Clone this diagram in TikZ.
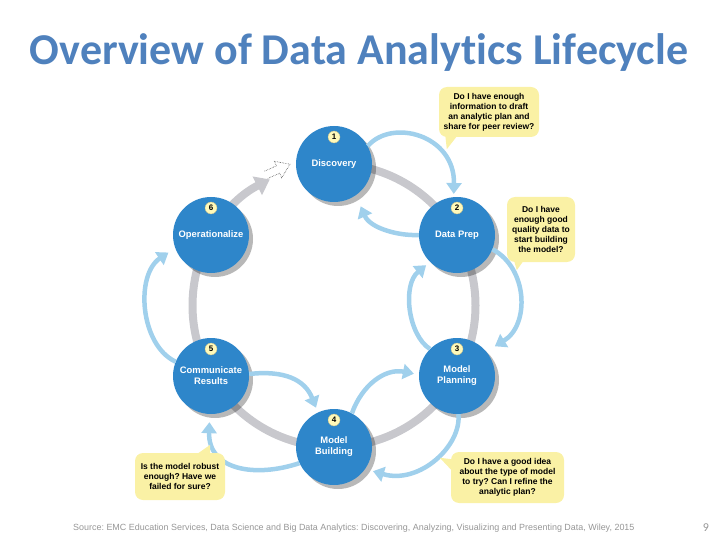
\documentclass[tikz,border=0pt]{standalone}
\usepackage{fontspec}
\setmainfont{Liberation Sans}
\newfontfamily\titlefont[Ligatures=NoCommon]{Carlito}
\usetikzlibrary{arrows.meta}
\frenchspacing
\definecolor{nodeblue}{RGB}{46,134,202}
\definecolor{ringgray}{RGB}{200,200,205}
\definecolor{arrowblue}{RGB}{160,208,236}
\definecolor{bubbleyellow}{RGB}{250,241,165}
\definecolor{titleblue}{RGB}{79,129,189}
\definecolor{badgeyellow}{RGB}{255,249,185}
\definecolor{footgray}{RGB}{150,150,150}
\begin{document}
\begin{tikzpicture}[x=1pt,y=-1pt,
  stage/.style={circle, fill=nodeblue, minimum size=76pt, inner sep=0pt, text=white,
    font=\bfseries\fontsize{9.4}{11}\selectfont, align=center},
  badge/.style={circle, fill=badgeyellow, draw=badgeyellow!75!black, line width=0.3pt,
    minimum size=12pt, inner sep=0pt, font=\bfseries\fontsize{8}{8}\selectfont},
  flow/.style={draw=arrowblue, line width=4.5pt, -{Triangle[length=11pt,width=15pt]}},
  ring/.style={draw=ringgray, line width=8pt},
  bubble/.style={fill=bubbleyellow, rounded corners=8pt, inner sep=0pt, align=center,
    font=\frenchspacing\bfseries\fontsize{8.5}{10}\selectfont},
]
\useasboundingbox (0,0) rectangle (720,540);

% title
\node[font=\titlefont\bfseries\fontsize{44}{50}\selectfont, text=titleblue, anchor=base]
  (title) at (359,65) {Overview of Data Analytics Lifecycle};

% positions
\coordinate (O) at (334,305.5);
\coordinate (p1) at (334,164);
\coordinate (p2) at (457,235);
\coordinate (p3) at (457,376);
\coordinate (p4) at (334,447);
\coordinate (p5) at (211,376);
\coordinate (p6) at (211,235);

% gray ring with arrow into Discovery
\draw[ring, -{Triangle[length=14pt,width=20pt]}] (O) ++(-90:141.5)
  arc[start angle=-90, end angle=243, radius=141.5];
% dashed outline arrow
\draw[black!70, densely dotted, line width=0.6pt, rotate around={24:(268,174)}]
  (266,170) -- (279,170) -- (279,165) -- (292,174) -- (279,183) -- (279,178) -- (266,178);

% shadows
\foreach \i in {1,...,6}
  \fill[black, opacity=0.28] ([shift={(4,4)}]p\i) circle (38);

% stages
\node[stage] (n1) at (p1) {Discovery};
\node[stage] (n2) at (p2) {Data Prep};
\node[stage] (n3) at (p3) {Model\\Planning};
\node[stage] (n4) at (p4) {Model\\Building};
\node[stage] (n5) at (p5) {Communicate\\Results};
\node[stage] (n6) at (p6) {Operationalize};

% badges
\node[badge] (b1n) at ([yshift=27pt]p1) {1};
\node[badge] (b2n) at ([yshift=27pt]p2) {2};
\node[badge] (b3n) at ([yshift=27pt]p3) {3};
\node[badge] (b4n) at ([yshift=27pt]p4) {4};
\node[badge] (b5n) at ([yshift=27pt]p5) {5};
\node[badge] (b6n) at ([yshift=27pt]p6) {6};

% blue flows
\draw[flow, shorten >=3pt] (n1.28) .. controls (392,118) and (455,135) .. (n2.95);
\draw[flow, shorten >=12pt] (n2.180) .. controls (398,236) and (370,228) .. (n1.-55);
\draw[flow, shorten >=10pt] (n2.-22) .. controls (528,268) and (530,325) .. (n3.40);
\draw[flow, shorten >=5pt] (n3.135) .. controls (408,335) and (402,285) .. (n2.-135);
\draw[flow, shorten >=8pt] (n3.-88) .. controls (462,445) and (420,485) .. (n4.-35);
\draw[flow, shorten >=5pt] (n4.62) .. controls (362,385) and (385,368) .. (n3.178);
\draw[flow, shorten >=5pt] (n5.3) .. controls (285,370) and (305,380) .. (n4.115);
\draw[flow, shorten >=8pt] (n4.205) .. controls (255,478) and (208,470) .. (n5.-92);
\draw[flow, shorten >=8pt] (n5.158) .. controls (140,345) and (135,275) .. (n6.200);

% bubbles
\node[bubble, minimum width=100pt, minimum height=50pt] (q1) at (489,112)
  {Do I have enough\\information to draft\\an analytic plan and\\share for peer review?};
\fill[bubbleyellow] ([xshift=6pt,yshift=6pt]q1.south west) -- ([xshift=22pt,yshift=6pt]q1.south west)
  -- ([xshift=8pt,yshift=-12pt]q1.south west) -- cycle;

\node[bubble, minimum width=68pt, minimum height=65pt] (q2) at (541,229.5)
  {Do I have\\enough good\\quality data to\\start building\\the model?};
\fill[bubbleyellow] ([xshift=6pt,yshift=6pt]q2.south west) -- ([xshift=20pt,yshift=6pt]q2.south west)
  -- ([xshift=10pt,yshift=-8pt]q2.south west) -- cycle;

\node[bubble, minimum width=113pt, minimum height=51pt] (q3) at (507.5,477.5)
  {Do I have a good idea\\about the type of model\\to try? Can I refine the\\analytic plan?};
\fill[bubbleyellow] ([xshift=6pt,yshift=-8pt]q3.north west) -- ([xshift=6pt,yshift=-24pt]q3.north west)
  -- ([xshift=-11pt,yshift=-6pt]q3.north west) -- cycle;

\node[bubble, minimum width=90pt, minimum height=47pt] (q4) at (180,476.5)
  {Is the model robust\\enough? Have we\\failed for sure?};
\fill[bubbleyellow] ([xshift=-35pt,yshift=-6pt]q4.north east) -- ([xshift=-15pt,yshift=-6pt]q4.north east)
  -- ([xshift=-15pt,yshift=8pt]q4.north east) -- cycle;

% footer
\node[anchor=base west, text=footgray, font=\fontsize{8.95}{10}\selectfont, inner sep=0pt] (src) at (73,530)
  {Source: EMC Education Services, Data Science and Big Data Analytics: Discovering, Analyzing, Visualizing and Presenting Data, Wiley, 2015};
\node[anchor=base, text=footgray, font=\titlefont\fontsize{12}{14}\selectfont, inner sep=0pt] (pg) at (706,531) {9};
\end{tikzpicture}
\end{document}
